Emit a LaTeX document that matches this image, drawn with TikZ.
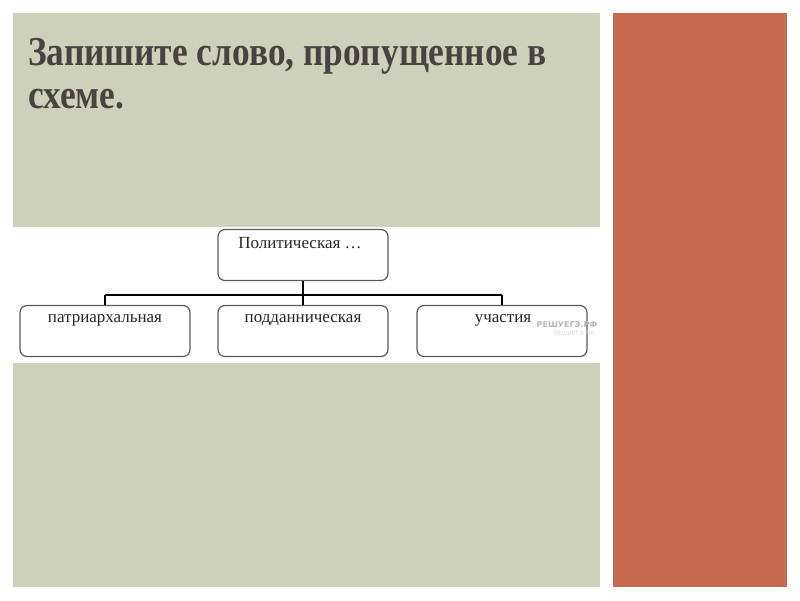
\documentclass[tikz,border=0pt]{standalone}
\usepackage{fontspec}
\setmainfont{Liberation Serif}
\newfontfamily\wmfont{DejaVu Sans}
\definecolor{panelgreen}{HTML}{CDD1BA}
\definecolor{panelred}{HTML}{C5694F}
\definecolor{titlegray}{HTML}{4A4242}
\definecolor{boxgray}{HTML}{5A5A5A}
\tikzset{
  px/.style={x=1pt,y=-1pt},
  titletext/.style={anchor=base west, text=titlegray, font=\bfseries\fontsize{38}{40}\selectfont, inner sep=0pt},
  schemebox/.style={draw=boxgray, line width=1.2pt, rounded corners=7pt, minimum width=170pt, minimum height=51pt, inner sep=0pt},
  boxtext/.style={font=\fontsize{17}{19}\selectfont, text=black!85},
  wmtext/.style={font=\wmfont\bfseries\fontsize{8}{9}\selectfont, inner sep=0pt},
  link/.style={line width=2.8pt, black}
}
\begin{document}
\begin{tikzpicture}[px]
\useasboundingbox (0,0) rectangle (800,600);
\fill[white] (0,0) rectangle (800,600);
% panels
\fill[panelgreen] (13,13) rectangle (600,227);
\fill[panelgreen] (13,363) rectangle (600,587);
\fill[panelred] (613,13) rectangle (787,587);
% title
\node[titletext] (title1) at (28,65) {\scalebox{0.93}[1.08]{Запишите слово, пропущенное в}};
\node[titletext] (title2) at (28,108) {\scalebox{0.93}[1.08]{схеме.}};
% scheme
\node[schemebox] (top) at (303,255) {};
\node[schemebox] (b1) at (105,331) {};
\node[schemebox] (b2) at (303,331) {};
\node[schemebox] (b3) at (502,331) {};
\node[boxtext] (ttop) at (300,243) {Политическая …};
\node[boxtext] (tb1) at (105,320) {патриархальная};
\node[boxtext] (tb2) at (303,320) {подданническая};
\node[boxtext] (tb3) at (503,320) {участия};
\node[wmtext, text=black!28] (wm1) at (567,325) {РЕШУЕГЭ.РФ};
\node[wmtext, text=black!15, font=\wmfont\fontsize{6}{7}\selectfont] (wm2) at (574,333) {РЕШУЕГЭ.РФ};
\coordinate (j) at (303,295);
\coordinate (jl) at (105,295);
\coordinate (jr) at (502,295);
\draw[link] (top.south) -- (j);
\draw[link] (jl) -- (jr);
\draw[link] (jl) -- (b1.north);
\draw[link] (j) -- (b2.north);
\draw[link] (jr) -- (b3.north);
\end{tikzpicture}
\end{document}
